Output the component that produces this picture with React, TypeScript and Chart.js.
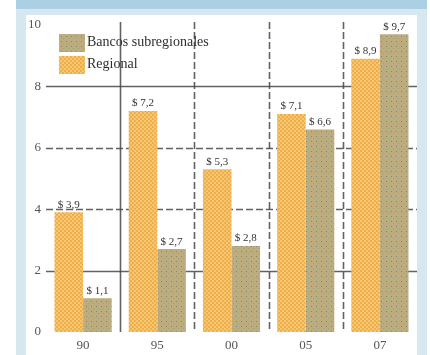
import { useEffect, useRef } from "react";
import { Chart, registerables } from "chart.js";

Chart.register(...registerables);

const years = ["90", "95", "00", "05", "07"];
const regional = [3.9, 7.2, 5.3, 7.1, 8.9];
const subregional = [1.1, 2.7, 2.8, 6.6, 9.7];
const legendNames = ["Bancos subregionales", "Regional"];
const yMax = 10;
const yStep = 2;

const SERIF = "'Liberation Serif', 'DejaVu Serif', serif";

function makePattern(size: number, base: string, dots: [number, number, number, string][]) {
  const c = document.createElement("canvas");
  c.width = size;
  c.height = size;
  const g = c.getContext("2d")!;
  g.fillStyle = base;
  g.fillRect(0, 0, size, size);
  for (const [x, y, s, col] of dots) {
    g.fillStyle = col;
    g.fillRect(x, y, s, s);
  }
  const ctx = document.createElement("canvas").getContext("2d")!;
  return ctx.createPattern(c, "repeat")!;
}

function fmt(v: number) {
  return "$ " + v.toFixed(1).replace(".", ",");
}

export default function App() {
  const ref = useRef<HTMLCanvasElement | null>(null);

  useEffect(() => {
    if (!ref.current) return;
    const orange = makePattern(4, "#f0ae47", [
      [0, 0, 2, "#f6c677"],
      [2, 2, 2, "#f6c677"],
    ]);
    const khaki = makePattern(5, "#bdac7e", [
      [1, 1, 1, "#8c8373"],
      [3, 3, 1, "#90ab84"],
    ]);

    const framePlugin = {
      id: "frame",
      beforeDraw(chart: Chart) {
        const ctx = chart.ctx;
        ctx.save();
        ctx.fillStyle = "#ffffff";
        ctx.fillRect(0, 0, chart.width, chart.height);
        ctx.fillStyle = "#d6e7f0";
        ctx.fillRect(16, 9, 411, 6);
        ctx.fillRect(16, 9, 10, chart.height - 9);
        ctx.fillRect(417, 9, 10, chart.height - 9);
        ctx.fillStyle = "#abd0e3";
        ctx.fillRect(16, 0, 411, 9);
        ctx.restore();
      },
    };

    const gridPlugin = {
      id: "customGrid",
      beforeDatasetsDraw(chart: Chart) {
        const ctx = chart.ctx;
        const area = chart.chartArea;
        const y = chart.scales.y;
        const x = chart.scales.x;
        ctx.save();
        ctx.strokeStyle = "rgba(70,70,70,0.85)";
        ctx.lineWidth = 1.6;
        for (let v = yStep; v < yMax; v += yStep) {
          const py = Math.round(y.getPixelForValue(v)) + 0.5;
          ctx.setLineDash(v === 2 || v === 8 ? [] : [7, 3]);
          ctx.beginPath();
          ctx.moveTo(area.left, py);
          ctx.lineTo(area.right, py);
          ctx.stroke();
        }
        for (let i = 1; i < years.length; i++) {
          const px = Math.round((x.getPixelForValue(i - 1) + x.getPixelForValue(i)) / 2) + 0.5;
          ctx.setLineDash(i === 1 ? [] : [7, 3]);
          ctx.beginPath();
          ctx.moveTo(px, area.top - 3);
          ctx.lineTo(px, area.bottom);
          ctx.stroke();
        }
        ctx.restore();
      },
    };

    const overlayPlugin = {
      id: "overlay",
      afterDatasetsDraw(chart: Chart) {
        const ctx = chart.ctx;
        ctx.save();
        // value labels above each bar
        ctx.font = `11px ${SERIF}`;
        ctx.fillStyle = "#333333";
        ctx.textAlign = "center";
        ctx.textBaseline = "bottom";
        chart.data.datasets.forEach((ds, di) => {
          const meta = chart.getDatasetMeta(di);
          meta.data.forEach((bar: any, i: number) => {
            ctx.fillText(fmt(ds.data[i] as number), bar.x, bar.y - 2);
          });
        });
        // legend
        const swatches = [khaki, orange];
        ctx.font = `14px ${SERIF}`;
        ctx.textAlign = "left";
        ctx.textBaseline = "middle";
        legendNames.forEach((name, i) => {
          const top = 34 + i * 22;
          ctx.fillStyle = swatches[i];
          ctx.fillRect(59, top, 26, 18);
          ctx.fillStyle = "#2e2e2e";
          ctx.fillText(name, 87, top + 8);
        });
        ctx.restore();
      },
    };

    const chart = new Chart(ref.current, {
      type: "bar",
      data: {
        labels: years,
        datasets: [
          {
            label: legendNames[1],
            data: regional,
            backgroundColor: orange,
            borderWidth: 0,
            barPercentage: 1,
            categoryPercentage: 0.77,
          },
          {
            label: legendNames[0],
            data: subregional,
            backgroundColor: khaki,
            borderWidth: 0,
            barPercentage: 1,
            categoryPercentage: 0.77,
          },
        ],
      },
      options: {
        animation: false,
        responsive: false,
        devicePixelRatio: 1,
        layout: { padding: { top: 25, right: 13, left: 0, bottom: 0 } },
        plugins: {
          legend: { display: false },
          tooltip: { enabled: false },
          title: { display: false },
        },
        scales: {
          x: {
            grid: { display: false, drawTicks: false },
            border: { display: false },
            ticks: {
              color: "#555555",
              font: { family: SERIF, size: 13 },
              padding: 6,
            },
            afterFit(scale: any) {
              scale.height = 23;
            },
          },
          y: {
            min: 0,
            max: yMax,
            grid: { display: false, drawTicks: false },
            border: { display: false },
            ticks: {
              stepSize: yStep,
              color: "#555555",
              font: { family: SERIF, size: 13 },
              padding: 5,
            },
            afterFit(scale: any) {
              scale.width = 46;
            },
          },
        },
      },
      plugins: [framePlugin, gridPlugin, overlayPlugin],
    });
    return () => chart.destroy();
  }, []);

  return (
    <div style={{ position: "absolute", left: 0, top: 0, width: 430, height: 355 }}>
      <canvas ref={ref} width={430} height={355} style={{ display: "block" }} />
    </div>
  );
}
